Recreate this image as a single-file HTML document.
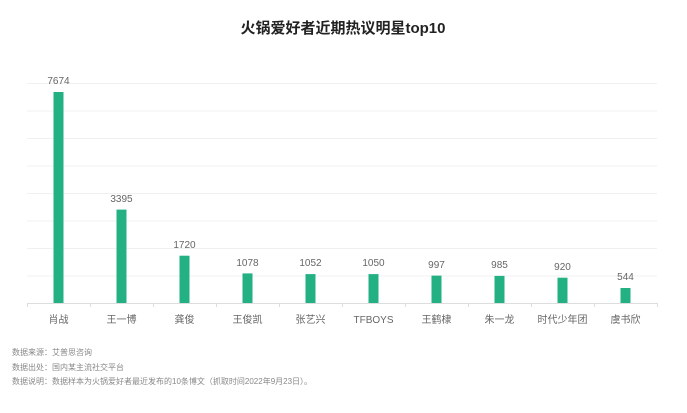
<!DOCTYPE html>
<html><head><meta charset="utf-8"><style>
body{margin:0;background:#fff;width:687px;height:408px;overflow:hidden;font-family:"Liberation Sans","Noto Sans CJK SC",sans-serif}
</style></head><body>
<svg width="687" height="408" xmlns="http://www.w3.org/2000/svg" font-family="Liberation Sans, Noto Sans CJK SC, sans-serif">
<text x="343" y="33" text-anchor="middle" font-size="15" font-weight="bold" fill="#222">火锅爱好者近期热议明星top10</text>
<g stroke="#f0f0f0" stroke-width="1">
<line x1="27" x2="657" y1="83.5" y2="83.5"/><line x1="27" x2="657" y1="111" y2="111"/>
<line x1="27" x2="657" y1="138.5" y2="138.5"/><line x1="27" x2="657" y1="166" y2="166"/>
<line x1="27" x2="657" y1="193.5" y2="193.5"/><line x1="27" x2="657" y1="221" y2="221"/>
<line x1="27" x2="657" y1="248.5" y2="248.5"/><line x1="27" x2="657" y1="276" y2="276"/>
</g>
<line x1="27" x2="657" y1="303.5" y2="303.5" stroke="#ddd"/>
<g stroke="#ddd">
<line x1="27.5" x2="27.5" y1="303" y2="307"/><line x1="90.5" x2="90.5" y1="303" y2="307"/><line x1="153.5" x2="153.5" y1="303" y2="307"/><line x1="216.5" x2="216.5" y1="303" y2="307"/><line x1="279.5" x2="279.5" y1="303" y2="307"/><line x1="342.5" x2="342.5" y1="303" y2="307"/><line x1="405.5" x2="405.5" y1="303" y2="307"/><line x1="468.5" x2="468.5" y1="303" y2="307"/><line x1="531.5" x2="531.5" y1="303" y2="307"/><line x1="594.5" x2="594.5" y1="303" y2="307"/><line x1="657.5" x2="657.5" y1="303" y2="307"/>
</g>
<g fill="#23b083">
<rect x="53.5" y="92" width="10" height="211"/>
<rect x="116.5" y="209.6" width="10" height="93.4"/>
<rect x="179.5" y="255.7" width="10" height="47.3"/>
<rect x="242.5" y="273.4" width="10" height="29.6"/>
<rect x="305.5" y="274.1" width="10" height="28.9"/>
<rect x="368.5" y="274.1" width="10" height="28.9"/>
<rect x="431.5" y="275.6" width="10" height="27.4"/>
<rect x="494.5" y="275.9" width="10" height="27.1"/>
<rect x="557.5" y="277.7" width="10" height="25.3"/>
<rect x="620.5" y="288" width="10" height="15"/>
</g>
<g font-size="10" fill="#666" text-anchor="middle">
<text x="58.5" y="84">7674</text><text x="121.5" y="202">3395</text><text x="184.5" y="248">1720</text><text x="247.5" y="266">1078</text><text x="310.5" y="266">1052</text><text x="373.5" y="266">1050</text><text x="436.5" y="268">997</text><text x="499.5" y="268">985</text><text x="562.5" y="270">920</text><text x="625.5" y="280">544</text>
</g>
<g font-size="10" fill="#666" text-anchor="middle">
<text x="58.5" y="323">肖战</text><text x="121.5" y="323">王一博</text><text x="184.5" y="323">龚俊</text><text x="247.5" y="323">王俊凯</text><text x="310.5" y="323">张艺兴</text><text x="373.5" y="323">TFBOYS</text><text x="436.5" y="323">王鹤棣</text><text x="499.5" y="323">朱一龙</text><text x="562.5" y="323">时代少年团</text><text x="625.5" y="323">虞书欣</text>
</g>
<g font-size="8" fill="#888">
<text x="12" y="355">数据来源：艾普思咨询</text>
<text x="12" y="370">数据出处：国内某主流社交平台</text>
<text x="12" y="384">数据说明：数据样本为火锅爱好者最近发布的10条博文（抓取时间2022年9月23日）。</text>
</g>
</svg>
</body></html>
